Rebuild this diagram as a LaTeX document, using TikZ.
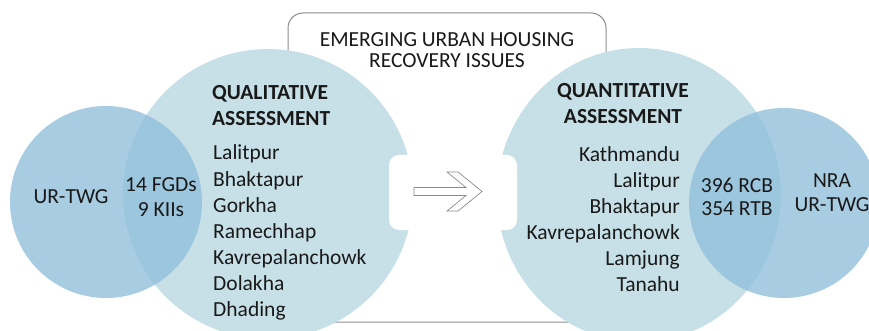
\documentclass[tikz,border=0pt]{standalone}
\usepackage{fontspec}
\setmainfont{Carlito}
\definecolor{bigc}{RGB}{199,224,232}
\definecolor{smallc}{RGB}{146,192,219}
\definecolor{boxline}{RGB}{140,140,140}
\definecolor{txt}{RGB}{25,25,25}
\begin{document}
\begin{tikzpicture}[x=1pt,y=-1pt,
  every node/.style={font=\fontsize{21.5}{26}\selectfont, text=txt, inner sep=0pt},
  lbl/.style={anchor=base west},
  rlbl/.style={anchor=base east},
  clbl/.style={anchor=base},
  hd/.style={font=\fontsize{21.5}{26}\selectfont\bfseries}]
\useasboundingbox (0,0) rectangle (869,331);
\clip (0,0) rectangle (869,331);
% frame box
\draw[boxline, line width=1pt, fill=white, rounded corners=15pt] (288,13) rectangle (606,322);
% big circles
\fill[bigc] (268,194) circle[radius=145];
\fill[bigc] (639,195) ellipse[x radius=142, y radius=147];
% small circles
\fill[smallc, opacity=0.8] (106,202) circle[radius=96];
\fill[smallc, opacity=0.8] (784,203) circle[radius=95];
% notch
\fill[white, rounded corners=10pt] (389,155) rectangle (517,230);
% block arrow
\draw[boxline, line width=0.7pt, fill=white, line join=miter]
  (414,187.5) -- (466,187.5) -- (447,172) -- (458,172) -- (482,191.5)
  -- (458,211) -- (447,211) -- (466,195.5) -- (414,195.5) -- cycle;
% header
\node[clbl] (h1) at (447,47) {EMERGING URBAN HOUSING};
\node[clbl] (h2) at (447,68) {RECOVERY ISSUES};
% qualitative
\node[lbl,hd] (qlt1) at (212,100) {QUALITATIVE};
\node[lbl,hd] (qlt2) at (212,126) {ASSESSMENT};
\foreach \t [count=\i] in {Lalitpur,Bhaktapur,Gorkha,Ramechhap,Kavrepalanchowk,Dolakha,Dhading}
  \node[lbl] (ql\i) at (213,{134+26*\i}) {\t};
% quantitative
\node[clbl,hd] (qnt1) at (623,98) {QUANTITATIVE};
\node[clbl,hd] (qnt2) at (623,124) {ASSESSMENT};
\foreach \t [count=\i] in {Kathmandu,Lalitpur,Bhaktapur,Kavrepalanchowk,Lamjung,Tanahu}
  \node[rlbl] (qn\i) at (680,{135+26*\i}) {\t};
% small circle labels
\node[clbl] (urtwgl) at (71,204) {UR-TWG};
\node[clbl] (fgd) at (161,191) {14 FGDs};
\node[clbl] (kii) at (161,216) {9 KIIs};
\node[clbl] (rcb) at (737,192) {396 RCB};
\node[clbl] (rtb) at (737,215) {354 RTB};
\node[clbl] (nra) at (832,187) {NRA};
\node[clbl] (urtwgr) at (832,211) {UR-TWG};
\end{tikzpicture}
\end{document}
